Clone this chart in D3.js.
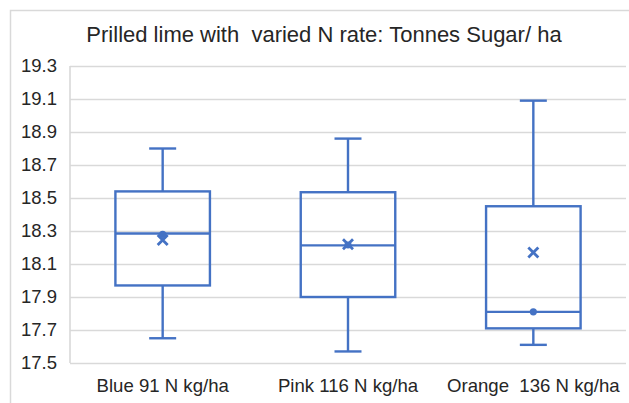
<!DOCTYPE html>
<html>
<head>
<meta charset="utf-8">
<script src="https://cdn.jsdelivr.net/npm/d3@7"></script>
<style>
  body { margin: 0; background: #fff; }
  text { font-family: "Liberation Sans", Arial, sans-serif; fill: #262626; }
</style>
</head>
<body>
<div id="chart-area"></div>
<script>

// BOX PLOT - PRILLED LIME, TONNES SUGAR / HA

const W = 629
const H = 403
const MARGINS = { TOP: 66, BOTTOM: 40, LEFT: 70, RIGHT: 3 }
const WIDTH = W - MARGINS.LEFT - MARGINS.RIGHT
const HEIGHT = H - MARGINS.TOP - MARGINS.BOTTOM

// data
const categories = ["Blue 91 N kg/ha", "Pink 116 N kg/ha", "Orange  136 N kg/ha"]
const mins = [17.65, 17.57, 17.61]
const q1s = [17.97, 17.90, 17.71]
const medians = [18.285, 18.213, 17.81]
const q3s = [18.54, 18.535, 18.45]
const maxs = [18.80, 18.86, 19.09]
const means = [18.245, 18.22, 18.17]
const points = [18.28, 18.215, 17.81]
const yTicks = [17.5, 17.7, 17.9, 18.1, 18.3, 18.5, 18.7, 18.9, 19.1, 19.3]

const BLUE = "#4472c4"

const svg = d3.select("#chart-area").append("svg")
    .attr("width", W)
    .attr("height", H)

// chart border
svg.append("rect")
    .attr("x", 10.5)
    .attr("y", 10.5)
    .attr("width", W + 10)
    .attr("height", H + 10)
    .attr("fill", "none")
    .attr("stroke", "#d9d9d9")
    .attr("stroke-width", 1.5)

svg.append("text")
    .attr("x", 324)
    .attr("y", 42)
    .attr("text-anchor", "middle")
    .attr("font-size", "22px")
    .style("white-space", "pre")
    .text("Prilled lime with  varied N rate: Tonnes Sugar/ ha")

const g = svg.append("g")
    .attr("transform", `translate(${MARGINS.LEFT}, ${MARGINS.TOP})`)

const x = d3.scaleBand()
    .domain(categories)
    .range([0, WIDTH])

const y = d3.scaleLinear()
    .domain([17.5, 19.3])
    .range([HEIGHT, 0])

// gridlines
const yAxis = d3.axisLeft(y)
    .tickValues(yTicks)
    .tickFormat(d3.format(".1f"))
    .tickSize(-WIDTH)
    .tickPadding(13)

g.append("g")
    .attr("class", "y-axis")
    .call(yAxis)
    .call(a => a.select(".domain").remove())
    .call(a => a.selectAll("line").attr("stroke", "#d9d9d9").attr("stroke-width", 1.6))
    .call(a => a.selectAll("text").attr("font-size", "18.5px").attr("fill", "#262626"))

// left plot edge
g.append("line")
    .attr("x1", 0).attr("x2", 0)
    .attr("y1", 0).attr("y2", HEIGHT)
    .attr("stroke", "#d9d9d9")
    .attr("stroke-width", 1.6)

const xAxis = d3.axisBottom(x).tickSize(0).tickPadding(16)
g.append("g")
    .attr("class", "x-axis")
    .attr("transform", `translate(0, ${HEIGHT})`)
    .call(xAxis)
    .call(a => a.select(".domain").remove())
    .call(a => a.selectAll("text").attr("font-size", "18.6px").attr("fill", "#262626").style("white-space", "pre"))

const boxW = x.bandwidth() * 0.51
const capW = 27

categories.forEach((c, i) => {
    const cx = x(c) + x.bandwidth() / 2
    const box = g.append("g")
        .attr("fill", "none")
        .attr("stroke", BLUE)
        .attr("stroke-width", 2.4)

    // whiskers
    box.append("line")
        .attr("x1", cx).attr("x2", cx)
        .attr("y1", y(maxs[i])).attr("y2", y(q3s[i]))
    box.append("line")
        .attr("x1", cx).attr("x2", cx)
        .attr("y1", y(q1s[i])).attr("y2", y(mins[i]))
    box.append("line")
        .attr("x1", cx - capW / 2).attr("x2", cx + capW / 2)
        .attr("y1", y(maxs[i])).attr("y2", y(maxs[i]))
    box.append("line")
        .attr("x1", cx - capW / 2).attr("x2", cx + capW / 2)
        .attr("y1", y(mins[i])).attr("y2", y(mins[i]))

    // box
    box.append("rect")
        .attr("x", cx - boxW / 2)
        .attr("y", y(q3s[i]))
        .attr("width", boxW)
        .attr("height", y(q1s[i]) - y(q3s[i]))

    // median
    box.append("line")
        .attr("x1", cx - boxW / 2).attr("x2", cx + boxW / 2)
        .attr("y1", y(medians[i])).attr("y2", y(medians[i]))

    // inner point
    g.append("circle")
        .attr("cx", cx)
        .attr("cy", y(points[i]))
        .attr("r", 3.6)
        .attr("fill", BLUE)

    // mean marker
    const m = y(means[i])
    const s = 5
    box.append("path")
        .attr("d", `M${cx - s},${m - s}L${cx + s},${m + s}M${cx - s},${m + s}L${cx + s},${m - s}`)
        .attr("stroke-width", 2.8)
})

</script>
</body>
</html>
